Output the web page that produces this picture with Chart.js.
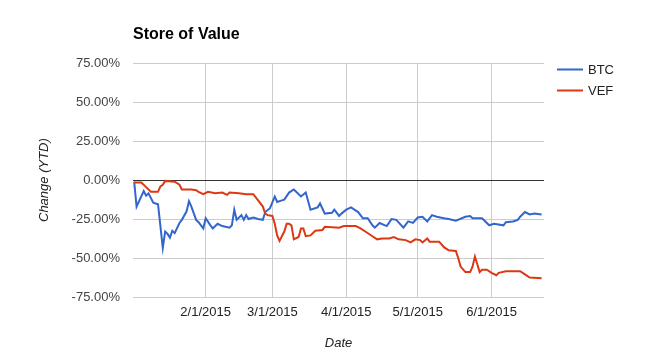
<!DOCTYPE html>
<html>
<head>
<meta charset="utf-8">
<script src="https://cdn.jsdelivr.net/npm/chart.js@4/dist/chart.umd.min.js"></script>
<style>
  body { margin: 0; background: #fff; }
</style>
</head>
<body>
<canvas id="graficaValor" width="672" height="361"></canvas>
<script>
// days counted from 1/1/2015 (day 0)
const btcDays = [1,2,5,6,7,9,10,11,13,14,15,16,17,18,20,21,23,24,25,27,28,30,31,33,34,36,38,41,42,43,44,46,47,48,49,51,53,55,56,58,60,61,63,64,66,68,71,73,75,78,79,81,84,85,87,88,90,92,95,97,99,101,102,104,107,109,111,114,116,118,120,122,124,126,128,131,133,136,140,142,143,147,150,152,156,157,160,162,163,165,167,169,172];
const btcChange = [-1,-17,-7,-10,-8.5,-14.5,-15,-15.5,-43.5,-33,-34.5,-37,-32.5,-34,-27.5,-25.5,-20,-13.5,-17,-25.5,-27,-31,-24.5,-29,-31,-28,-29.5,-30.5,-29,-19,-25.5,-22.5,-25.5,-22.5,-25,-24,-25,-25.5,-20.5,-18,-10.5,-14,-13,-12.5,-8,-6,-10.5,-8,-19,-17.5,-15,-21.5,-21,-19,-23,-21.5,-19,-17.5,-20.5,-24.5,-24.5,-29,-30.5,-27.5,-29.5,-25,-25.5,-30.5,-26.5,-27.5,-24,-23.5,-26.5,-22.5,-23.5,-24.5,-25,-26,-23.5,-23,-24.5,-24.5,-29,-28,-29,-27,-26.5,-25.5,-23.5,-20.5,-22,-21.5,-22];

const vefDays = [1,4,6,8,11,12,13,14,18,20,21,25,27,28,30,32,35,38,40,41,45,48,51,53,55,56,57,59,60,61,62,64,65,66,67,68,70,71,72,73,75,77,80,81,87,89,94,96,98,101,103,105,108,110,112,115,117,119,121,122,124,125,129,131,133,136,137,138,140,142,143,144,145,146,147,149,151,153,154,157,163,165,167,172];
const vefChange = [-1.5,-1.5,-4.5,-7.5,-7.5,-4,-3,-0.5,-1,-3,-6,-6,-6.5,-7.5,-9,-7.5,-8.5,-8,-9.5,-8,-8.5,-9,-9,-13,-17,-21.5,-22.5,-23,-28,-35.5,-39,-33,-28,-28,-29,-38,-36.5,-31,-31,-36,-35.5,-32.5,-32,-30,-30.5,-29.5,-29.5,-31,-33,-36,-38,-37.5,-37.5,-36.5,-38,-38.5,-40,-38,-38.5,-40,-37.5,-39.5,-39.5,-43,-45,-45.5,-50,-55.5,-59,-59,-55.5,-49,-54,-59,-57.5,-57.5,-59.5,-61,-59.5,-58.5,-58.5,-60.5,-62.5,-63];

const tickDays = [31, 59, 90, 120, 151];
const tickLabels = ['2/1/2015', '3/1/2015', '4/1/2015', '5/1/2015', '6/1/2015'];

const fuente = "'Liberation Sans', Arial, sans-serif";

// leyenda a la derecha, como en Google Charts
const leyenda = {
    id: 'leyenda',
    afterDraw(chart) {
        const ctx = chart.ctx;
        ctx.save();
        chart.data.datasets.forEach((ds, i) => {
            const y = 69.5 + i * 21;
            ctx.strokeStyle = ds.borderColor;
            ctx.lineWidth = 2;
            ctx.beginPath();
            ctx.moveTo(557, y);
            ctx.lineTo(583, y);
            ctx.stroke();
            ctx.fillStyle = '#222';
            ctx.font = '13px ' + fuente;
            ctx.textBaseline = 'middle';
            ctx.fillText(ds.label, 588, y + 0.5);
        });
        ctx.restore();
    }
};

const ctxValor = document.getElementById('graficaValor').getContext('2d');
const graficaValor = new Chart(ctxValor, {
    type: 'line',
    data: {
        datasets: [{
            label: 'BTC',
            data: btcDays.map((d, i) => ({ x: d, y: btcChange[i] })),
            borderColor: '#3366cc',
            borderWidth: 2,
            pointRadius: 0,
            tension: 0,
            order: 1
        }, {
            label: 'VEF',
            data: vefDays.map((d, i) => ({ x: d, y: vefChange[i] })),
            borderColor: '#dc3912',
            borderWidth: 2,
            pointRadius: 0,
            tension: 0,
            order: 0
        }]
    },
    options: {
        responsive: false,
        animation: false,
        layout: { padding: { left: 0, right: 128, top: 0, bottom: 0 } },
        plugins: {
            legend: { display: false },
            tooltip: { enabled: false },
            title: {
                display: true,
                text: 'Store of Value',
                align: 'start',
                fullSize: false,
                color: '#000',
                font: { family: fuente, size: 16, weight: 'bold' },
                padding: { top: 25, bottom: 19 }
            }
        },
        scales: {
            x: {
                type: 'linear',
                min: 0.5,
                max: 173,
                afterBuildTicks: (scale) => {
                    scale.ticks = tickDays.map(v => ({ value: v }));
                },
                afterFit: (scale) => { scale.height = 64; },
                ticks: {
                    autoSkip: false,
                    maxRotation: 0,
                    padding: 8,
                    color: '#222',
                    font: { family: fuente, size: 13 },
                    callback: (value) => tickLabels[tickDays.indexOf(value)]
                },
                grid: { color: '#ccc', drawTicks: false },
                border: { display: false },
                title: {
                    display: true,
                    text: 'Date',
                    color: '#222',
                    font: { family: fuente, size: 13, style: 'italic' },
                    padding: { top: 0, bottom: 10 }
                }
            },
            y: {
                min: -75,
                max: 75,
                afterFit: (scale) => { scale.width = 133; },
                ticks: {
                    stepSize: 25,
                    padding: 13,
                    color: '#444',
                    font: { family: fuente, size: 13 },
                    callback: (value) => value.toFixed(2) + '%'
                },
                grid: {
                    drawTicks: false,
                    color: (c) => c.tick && c.tick.value === 0 ? '#333' : '#ccc'
                },
                border: { display: false },
                title: {
                    display: true,
                    text: 'Change (YTD)',
                    color: '#222',
                    font: { family: fuente, size: 13, style: 'italic' },
                    padding: { top: 37, bottom: 0 }
                }
            }
        }
    },
    plugins: [leyenda]
});
</script>
</body>
</html>
